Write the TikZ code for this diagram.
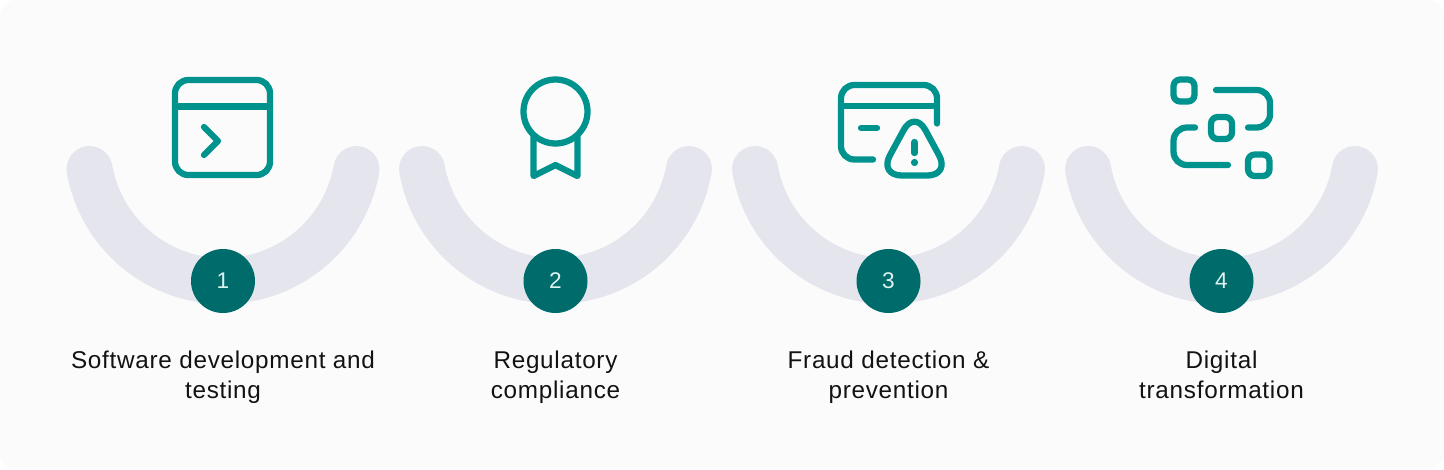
\documentclass[tikz,border=0pt]{standalone}
\usepackage{fontspec}
\setmainfont{Liberation Sans}
\newfontfamily\capfont[LetterSpace=3]{Liberation Sans}
\definecolor{panelbg}{HTML}{FBFBFC}
\definecolor{arcgray}{HTML}{E4E5ED}
\definecolor{badgeteal}{HTML}{006B6B}
\definecolor{iconteal}{HTML}{00938E}
\definecolor{badgetext}{HTML}{DDF3F1}
\tikzset{
    arcband/.style={draw=arcgray, line width=34.5pt, line cap=round},
    badge/.style={circle, fill=badgeteal, text=badgetext, minimum size=48pt, inner sep=0pt, font=\fontsize{17}{20}\selectfont},
    caption/.style={align=center, text=black!93, inner sep=0pt, anchor=base, font=\capfont\fontsize{18.2}{22.5}\selectfont},
    icon/.style={draw=iconteal, line width=4.7pt, line cap=round, line join=round},
}
\begin{document}
\begin{tikzpicture}[x=0.75pt, y=-0.75pt]
    % Panel
    \useasboundingbox (0,0) rectangle (1444,469);
    \fill[white] (0,0) rectangle (1444,469);
    \fill[panelbg, rounded corners=12pt] (0,0) rectangle (1444,469);

    % Arcs, badges and captions
    \foreach \cx/\n/\txt in {223/1/{Software development and\\testing},
                             555.5/2/{Regulatory\\compliance},
                             888.5/3/{Fraud detection \&\\prevention},
                             1221.5/4/{Digital\\transformation}} {
        \draw[arcband] (\cx,145.5) ++(190:135.5 and -135.5) arc[start angle=190, end angle=350, x radius=135.5, y radius=-135.5];
        \node[badge] (badge\n) at (\cx,281) {\n};
        \node[caption] (caption\n) at (\cx,398) {\txt};
    }

    % Window icon
    \draw[icon, rounded corners=10pt] (175,80) rectangle (270,175);
    \draw[icon] (175,106.5) -- (270,106.5);
    \draw[icon] (204,127) -- (218,141) -- (204,155);

    % Rosette icon
    \draw[icon] (555.5,111.5) circle (32);
    \draw[icon] (533.5,137) -- (533.5,176) -- (555.5,165) -- (577.5,176) -- (577.5,137);

    % Card icon
    \draw[icon, rounded corners=10pt] (873,159.5) -- (841,159.5) -- (841,85) -- (937,85) -- (937,123.5);
    \draw[icon] (841,106) -- (937,106);
    \draw[icon] (861,128) -- (877,128);
    \draw[icon, rounded corners=17pt] (879,175.5) -- (914.5,110) -- (950,175.5) -- cycle;
    \draw[icon] (914.5,142) -- (914.5,153);
    \fill[iconteal] (914.5,162.5) circle (3.6);

    % Nodes icon
    \draw[icon, rounded corners=5pt] (1173.5,79.5) rectangle (1194.5,101.5);
    \draw[icon, rounded corners=5pt] (1211,117) rectangle (1232,139);
    \draw[icon, rounded corners=5pt] (1248,154.5) rectangle (1269.5,176);
    \draw[icon, rounded corners=10pt] (1216,90) -- (1270,90) -- (1270,127.5) -- (1248,127.5);
    \draw[icon, rounded corners=10pt] (1195,127.5) -- (1173.5,127.5) -- (1173.5,165) -- (1228,165);
\end{tikzpicture}
\end{document}
